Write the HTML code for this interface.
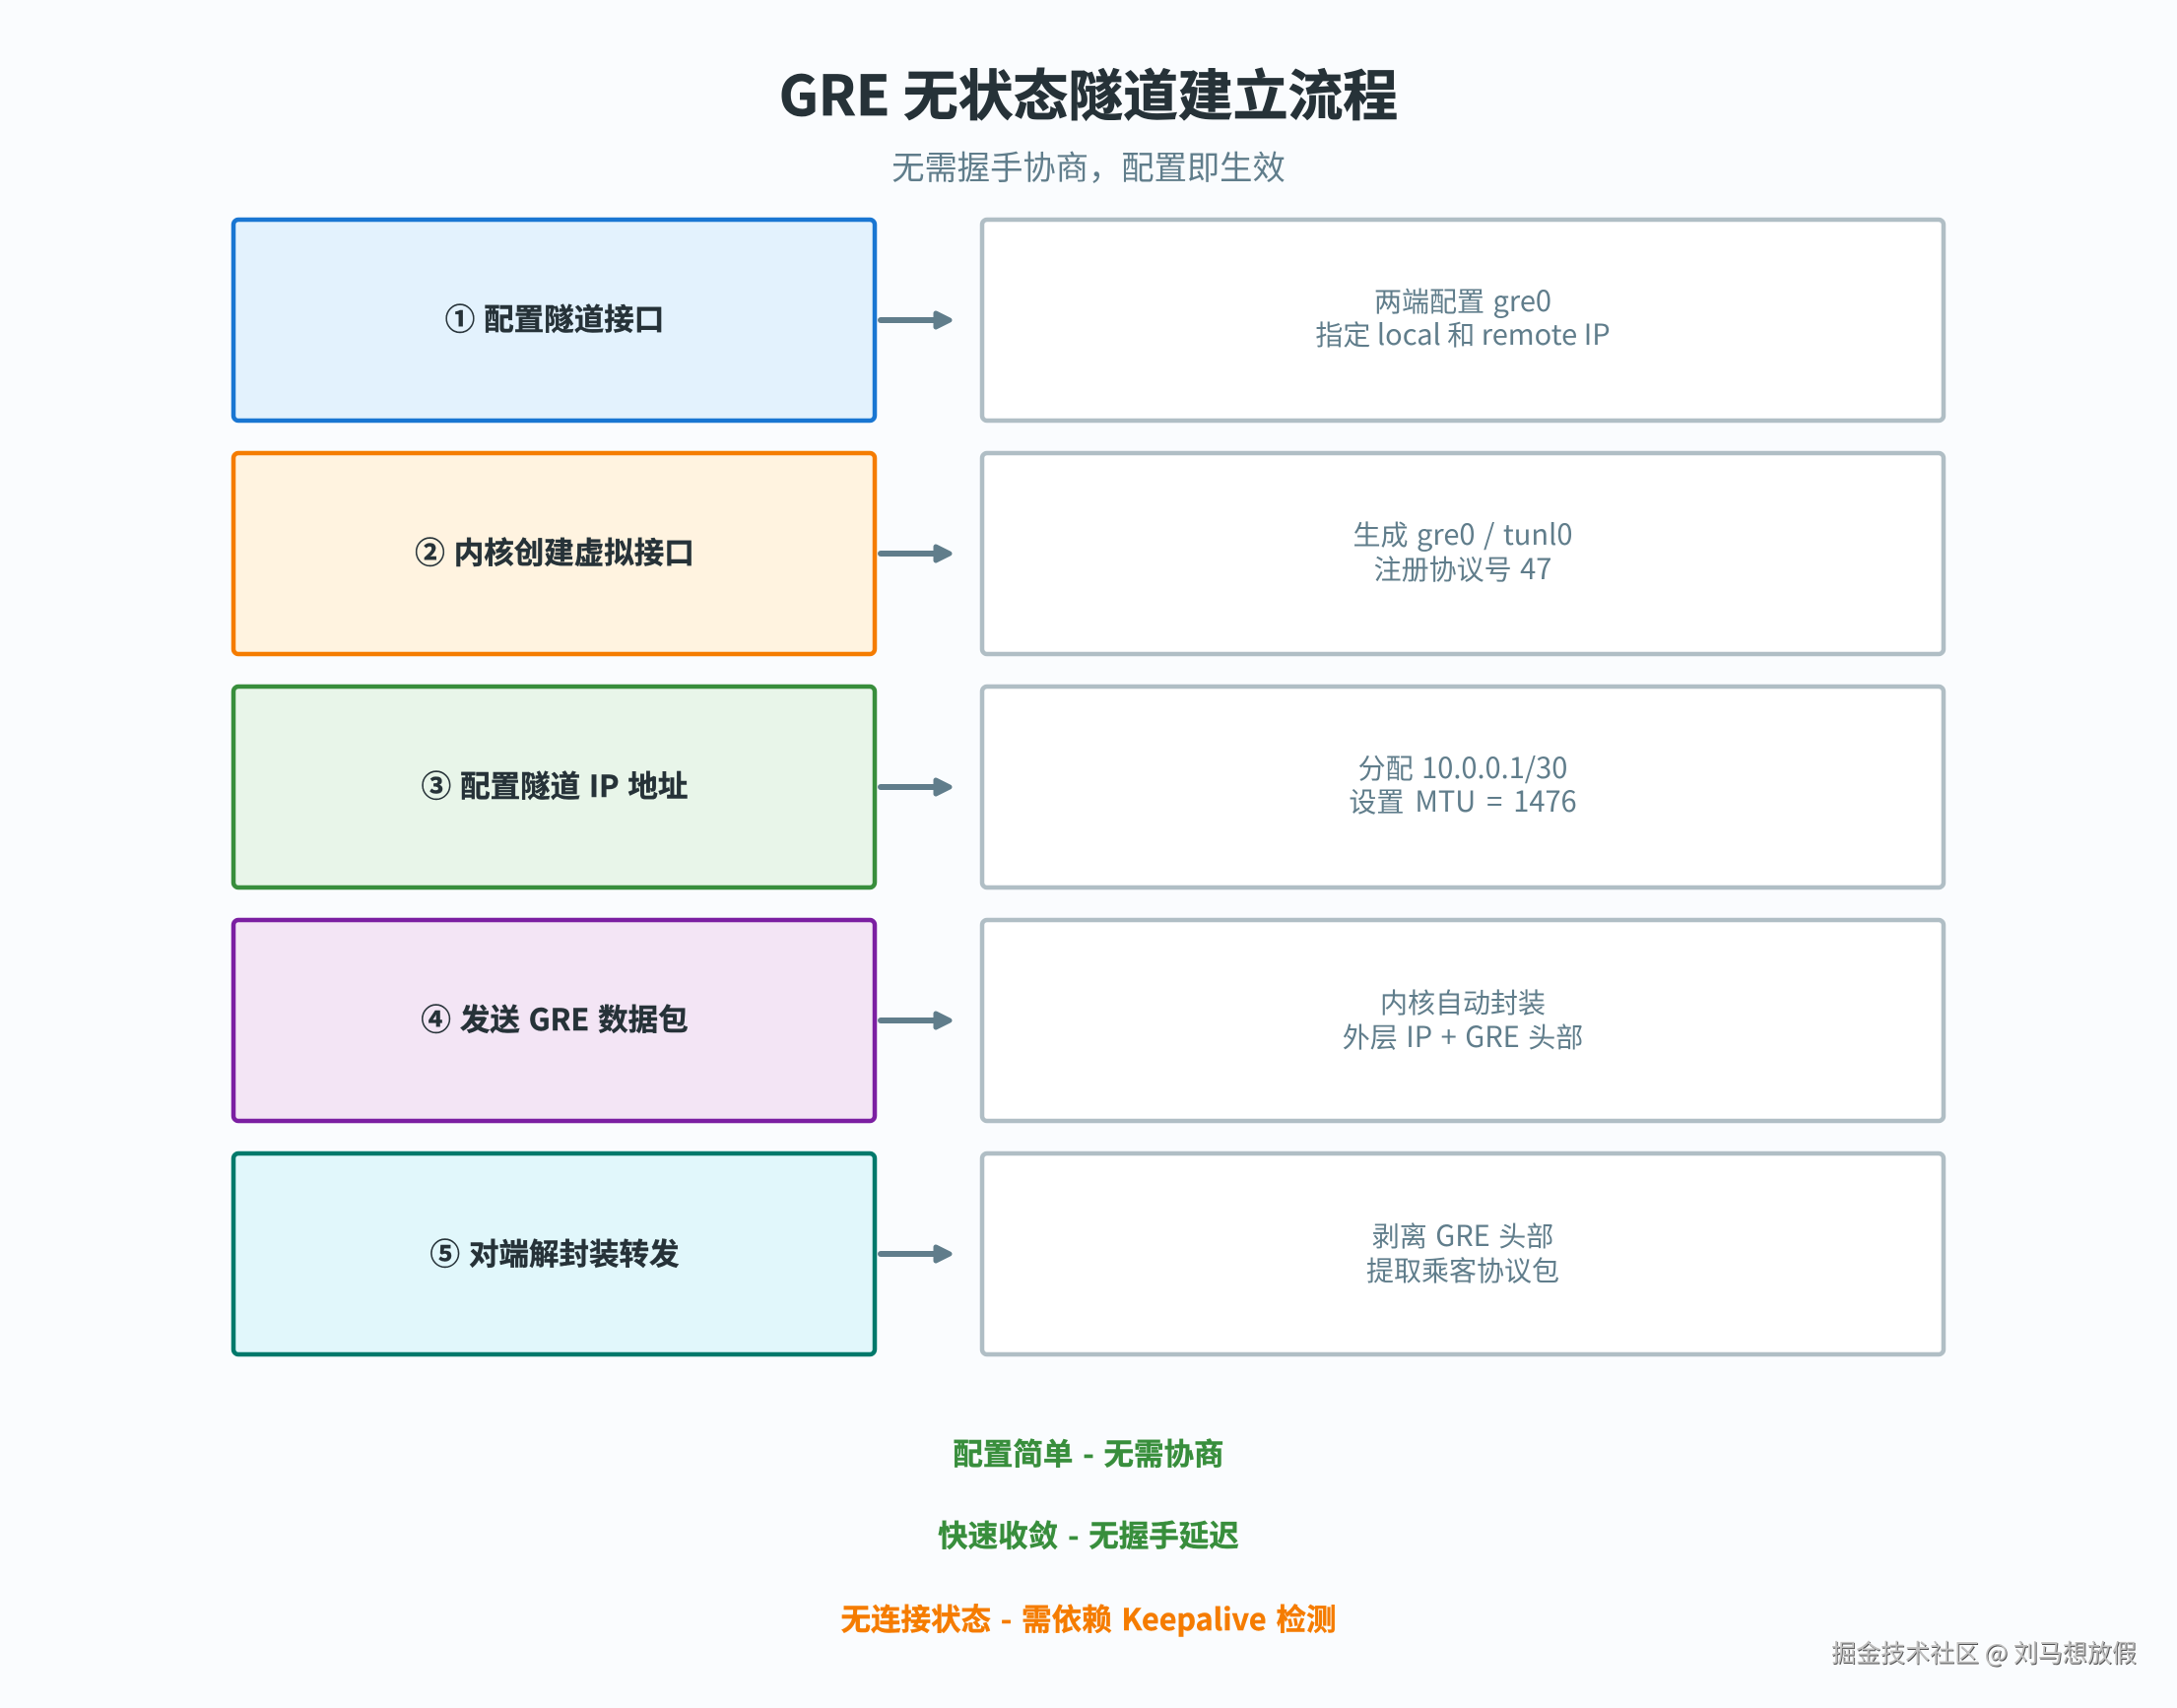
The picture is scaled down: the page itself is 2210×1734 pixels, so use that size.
<!DOCTYPE html>
<html lang="zh"><head><meta charset="utf-8"><title>GRE 无状态隧道建立流程</title>
<style>
html,body{margin:0;padding:0;background:#fafcfe}
svg{display:block}
text{font-family:"Noto Sans CJK SC","Liberation Sans",sans-serif;text-anchor:middle}
.l{font-size:30.5px;font-weight:700;fill:#263238;word-spacing:2px;stroke:#263238;stroke-width:.4px;text-anchor:middle}
.d{font-size:29px;fill:#607d8b;word-spacing:2px}
.c{font-size:28px}
.n{font-size:30.5px;font-weight:700;word-spacing:3px;stroke-width:.4px}
.a{fill:none;stroke:#607d8b;stroke-width:6;stroke-linecap:round;stroke-linejoin:round}
.h{fill:#607d8b;stroke:#607d8b;stroke-width:5;stroke-linejoin:round}
.r{fill:#fff;stroke:#b0bec5;stroke-width:4.5}
</style></head><body>
<svg width="2210" height="1734" viewBox="0 0 2210 1734" xmlns="http://www.w3.org/2000/svg">
<rect width="2210" height="1734" fill="#fafcfe"/>
<text x="1105" y="117" font-size="55.8" font-weight="700" fill="#263238" stroke="#263238" stroke-width=".8" word-spacing="1">GRE 无状态隧道建立流程</text>
<text x="1105" y="182" font-size="33.3" fill="#607d8b">无需握手协商，配置即生效</text>

<rect x="237" y="223" width="651" height="204" rx="5" fill="#e3f2fd" stroke="#1976d2" stroke-width="4.5"/>
<text x="563" y="335" class="l">① 配置隧道接口</text>
<path class="a" d="M894 325H950"/><path class="h" d="M950 318L964 325L950 332Z"/>
<rect x="997" y="223" width="976" height="204" rx="5" class="r"/>
<text x="1485" y="316" class="d"><tspan class="c">两端配置</tspan> gre0</text>
<text x="1485" y="350" class="d" style="word-spacing:0"><tspan class="c">指定</tspan> local <tspan class="c">和</tspan> remote IP</text>

<rect x="237" y="460" width="651" height="204" rx="5" fill="#fff3e0" stroke="#f57c00" stroke-width="4.5"/>
<text x="563" y="572" class="l">② 内核创建虚拟接口</text>
<path class="a" d="M894 562H950"/><path class="h" d="M950 555L964 562L950 569Z"/>
<rect x="997" y="460" width="976" height="204" rx="5" class="r"/>
<text x="1485" y="553" class="d"><tspan class="c">生成</tspan> gre0 / tunl0</text>
<text x="1485" y="588" class="d"><tspan class="c">注册协议号</tspan> 47</text>

<rect x="237" y="697" width="651" height="204" rx="5" fill="#e8f5e9" stroke="#388e3c" stroke-width="4.5"/>
<text x="563" y="809" class="l">③ 配置隧道 IP 地址</text>
<path class="a" d="M894 799H950"/><path class="h" d="M950 792L964 799L950 806Z"/>
<rect x="997" y="697" width="976" height="204" rx="5" class="r"/>
<text x="1485" y="790" class="d"><tspan class="c">分配</tspan> 10.0.0.1/30</text>
<text x="1485" y="824" class="d" style="word-spacing:4.5px"><tspan class="c">设置</tspan> MTU = 1476</text>

<rect x="237" y="934" width="651" height="204" rx="5" fill="#f3e5f5" stroke="#7b1fa2" stroke-width="4.5"/>
<text x="563" y="1046" class="l">④ 发送 GRE 数据包</text>
<path class="a" d="M894 1036H950"/><path class="h" d="M950 1029L964 1036L950 1043Z"/>
<rect x="997" y="934" width="976" height="204" rx="5" class="r"/>
<text x="1485" y="1028" class="d"><tspan class="c">内核自动封装</tspan></text>
<text x="1485" y="1063" class="d"><tspan class="c">外层</tspan> IP + GRE <tspan class="c">头部</tspan></text>

<rect x="237" y="1171" width="651" height="204" rx="5" fill="#e1f7fb" stroke="#00796b" stroke-width="4.5"/>
<text x="563" y="1284" class="l">⑤ 对端解封装转发</text>
<path class="a" d="M894 1273H950"/><path class="h" d="M950 1266L964 1273L950 1280Z"/>
<rect x="997" y="1171" width="976" height="204" rx="5" class="r"/>
<text x="1485" y="1265" class="d"><tspan class="c">剥离</tspan> GRE <tspan class="c">头部</tspan></text>
<text x="1485" y="1300" class="d"><tspan class="c">提取乘客协议包</tspan></text>

<text x="1105" y="1487" class="n" fill="#388e3c" stroke="#388e3c">配置简单 - 无需协商</text>
<text x="1105" y="1570" class="n" fill="#388e3c" stroke="#388e3c">快速收敛 - 无握手延迟</text>
<text x="1105" y="1655" class="n" fill="#f57c00" stroke="#f57c00">无连接状态 - 需依赖 Keepalive 检测</text>

<text x="2014" y="1687" font-size="25" fill="#fff" transform="translate(-1 -1)">掘金技术社区 @ 刘马想放假</text>
<text x="2014" y="1687" font-size="25" fill="#333" opacity=".85" transform="translate(.8 .8)">掘金技术社区 @ 刘马想放假</text>
<text x="2014" y="1687" font-size="25" fill="#c0c0c0">掘金技术社区 @ 刘马想放假</text>
</svg>
</body></html>
